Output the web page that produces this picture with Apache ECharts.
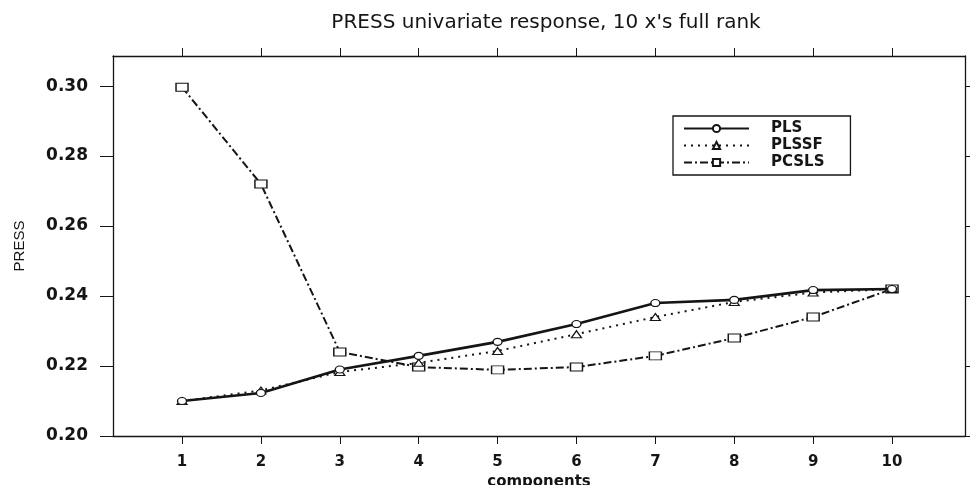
<!DOCTYPE html>
<html>
<head>
<meta charset="utf-8">
<script src="https://cdn.jsdelivr.net/npm/echarts@6/dist/echarts.min.js"></script>
<style>
  html, body { margin: 0; padding: 0; background: #fff; }
  #chart { width: 971px; height: 485px; }
</style>
</head>
<body>
<div id="chart"></div>
<script>
// values
const components = [1, 2, 3, 4, 5, 6, 7, 8, 9, 10];
const pls = [0.210, 0.2123, 0.219, 0.2229, 0.2269, 0.232, 0.238, 0.2389, 0.2417, 0.242];
const plssf = [0.210, 0.213, 0.2183, 0.2209, 0.2243, 0.2291, 0.234, 0.2383, 0.241, 0.242];
const pcsls = [0.2997, 0.272, 0.224, 0.2197, 0.2189, 0.2197, 0.2229, 0.228, 0.234, 0.242];
const yTicks = [0.20, 0.22, 0.24, 0.26, 0.28, 0.30];

const ink = "#151515";
const font = "DejaVu Sans";

const pairs = (ys) => components.map((c, i) => [c, ys[i]]);

const xRange = { min: 0.125, max: 10.925 };
const yRange = { min: 0.2, max: 0.3086 };

const chart = echarts.init(document.getElementById("chart"));

const option = {
  backgroundColor: "#fff",
  animation: false,
  title: {
    text: "PRESS univariate response, 10 x's full rank",
    left: 541,
    top: 8,
    textAlign: "center",
    textStyle: { fontFamily: font, fontSize: 20, fontWeight: "normal", color: ink },
  },
  grid: { left: 113, right: 6, top: 56, bottom: 49, outerBoundsMode: "none", containLabel: false },
  legend: {
    orient: "vertical",
    left: 673,
    top: 116,
    padding: [5, 26, 5, 10],
    itemWidth: 65,
    itemHeight: 9,
    itemGap: 2,
    backgroundColor: "#fff",
    borderColor: ink,
    borderWidth: 1.3,
    borderRadius: 0,
    textStyle: {
      fontFamily: font,
      fontSize: 15,
      lineHeight: 15,
      fontWeight: "bold",
      color: ink,
      padding: [0, 0, 0, 17],
    },
    data: ["PLS", "PLSSF", "PCSLS"],
  },
  xAxis: [
    {
      type: "value",
      ...xRange,
      name: "components",
      nameLocation: "middle",
      nameGap: 37,
      nameTextStyle: { fontFamily: font, fontSize: 15, fontWeight: "bold", color: ink },
      axisLine: { show: true, lineStyle: { color: ink, width: 1.3 } },
      axisTick: { show: true, length: 8, customValues: components, lineStyle: { color: ink } },
      axisLabel: {
        customValues: components,
        margin: 19,
        fontFamily: font,
        fontSize: 15,
        fontWeight: "bold",
        color: ink,
      },
      splitLine: { show: false },
    },
    {
      type: "value",
      position: "top",
      ...xRange,
      axisLine: { show: true, lineStyle: { color: ink, width: 1.3 } },
      axisTick: { show: true, length: 8, customValues: components, lineStyle: { color: ink } },
      axisLabel: { show: false },
      splitLine: { show: false },
    },
  ],
  yAxis: [
    {
      type: "value",
      ...yRange,
      name: "PRESS",
      nameLocation: "middle",
      nameGap: 86,
      nameTextStyle: { fontFamily: "Liberation Sans", fontSize: 15, color: ink },
      axisLine: { show: true, lineStyle: { color: ink, width: 1.3 } },
      axisTick: { show: true, length: 13, customValues: yTicks, lineStyle: { color: ink } },
      axisLabel: {
        customValues: yTicks,
        margin: 25,
        fontFamily: font,
        fontSize: 17,
        fontWeight: "bold",
        color: ink,
        formatter: (v) => v.toFixed(2),
      },
      splitLine: { show: false },
    },
    {
      type: "value",
      position: "right",
      ...yRange,
      axisLine: { show: true, lineStyle: { color: ink, width: 1.3 } },
      axisTick: { show: true, length: 5, customValues: yTicks, lineStyle: { color: ink } },
      axisLabel: { show: false },
      splitLine: { show: false },
    },
  ],
  series: [
    {
      name: "PLS",
      type: "line",
      data: pairs(pls),
      symbol: "circle",
      symbolSize: [9, 7],
      color: ink,
      itemStyle: { color: "#fff", borderColor: ink, borderWidth: 1.2 },
      lineStyle: { color: ink, width: 2.6, type: "solid" },
      z: 4,
    },
    {
      name: "PLSSF",
      type: "line",
      data: pairs(plssf),
      symbol: "triangle",
      symbolSize: [10, 7],
      color: ink,
      itemStyle: { color: "#fff", borderColor: ink, borderWidth: 1.2 },
      lineStyle: { color: ink, width: 2, type: [2, 5] },
      z: 3,
    },
    {
      name: "PCSLS",
      type: "line",
      data: pairs(pcsls),
      symbol: "rect",
      symbolSize: [12, 8],
      color: ink,
      itemStyle: { color: "#fff", borderColor: ink, borderWidth: 1.2 },
      lineStyle: { color: ink, width: 2, type: [8, 3, 2, 3] },
      z: 2,
    },
  ],
};

chart.setOption(option);
</script>
</body>
</html>
